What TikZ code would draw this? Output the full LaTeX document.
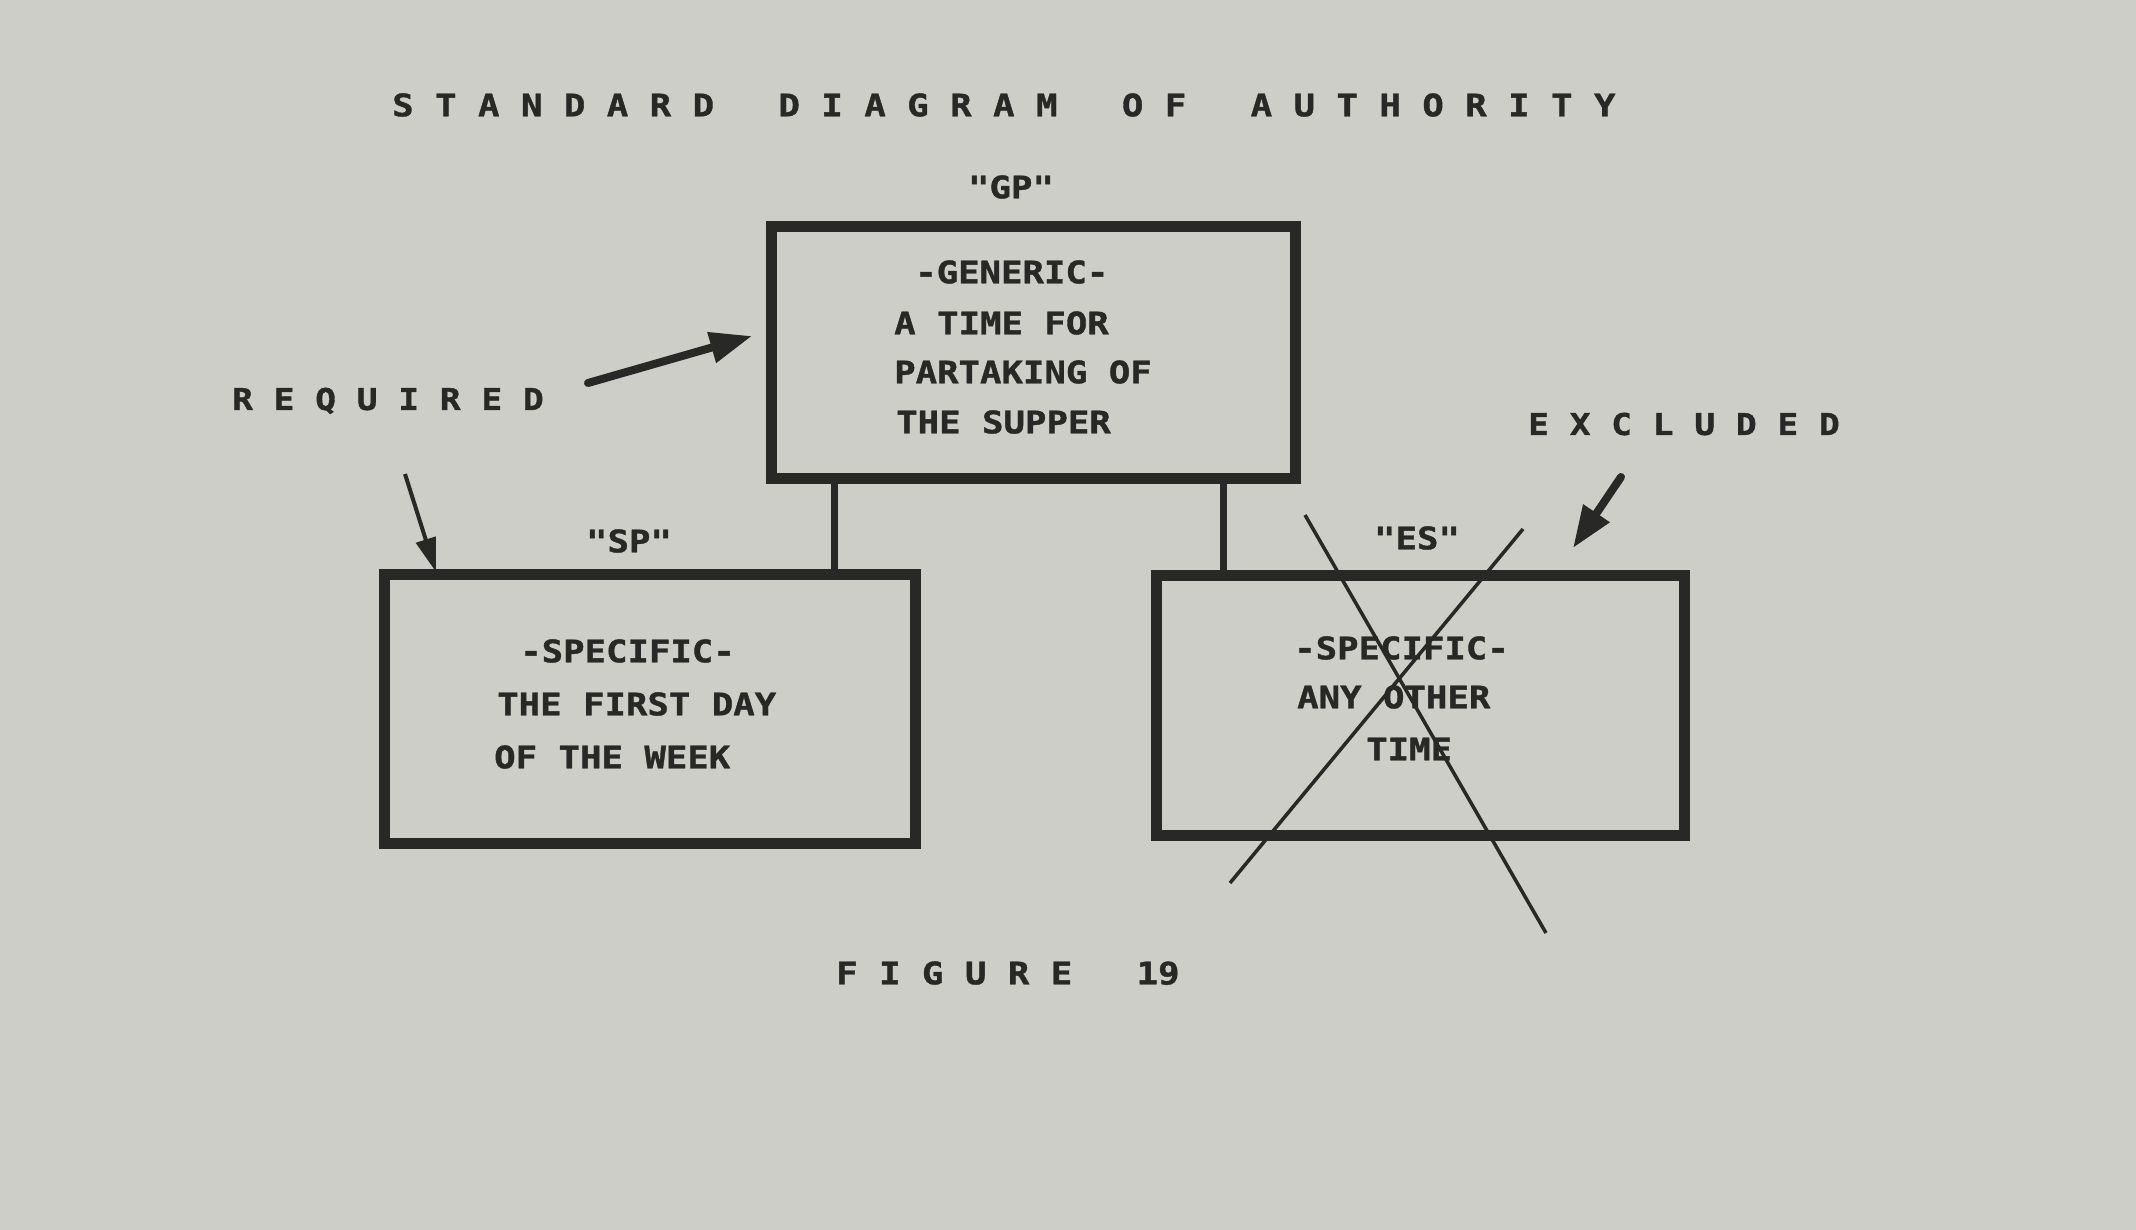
\documentclass[tikz,border=0pt]{standalone}
\usepackage{fontspec}
\usetikzlibrary{arrows.meta}
\newfontfamily\lettering[FakeStretch=1.15, BoldFeatures={FakeBold=1.2}]{DejaVu Sans Mono}
\definecolor{paper}{RGB}{206,206,200}
\definecolor{ink}{RGB}{40,40,38}
\tikzset{
  lbl/.style={font=\lettering\bfseries\fontsize{31}{31}\selectfont, text=ink, inner sep=0pt, text height=22.6pt, text depth=0pt},
  slbl/.style={font=\lettering\bfseries\fontsize{30}{30}\selectfont, text=ink, inner sep=0pt, text height=21.9pt, text depth=0pt},
  boxnode/.style={draw=ink, line width=11pt, inner sep=0pt, rectangle},
  conn/.style={draw=ink, line width=7pt},
  bigarrow/.style={draw=ink, line width=8pt, line cap=round, -{Triangle[length=42pt,width=30pt]}},
  thinarrow/.style={draw=ink, line width=4pt, -{Triangle[length=34pt,width=20pt]}},
  crossline/.style={draw=ink, line width=3.5pt}
}
\begin{document}
\begin{tikzpicture}[x=1pt,y=-1pt]
\fill[paper] (0,0) rectangle (2136,1230);
\useasboundingbox (0,0) rectangle (2136,1230);
% title
\node[lbl, anchor=west] (title) at (392,105) {S~T~A~N~D~A~R~D~~~D~I~A~G~R~A~M~~~O~F~~~A~U~T~H~O~R~I~T~Y};
% boxes
\node[boxnode, minimum width=524pt, minimum height=252pt] (gp) at (1033.5,352.5) {};
\node[boxnode, minimum width=531pt, minimum height=269pt] (sp) at (650,709) {};
\node[boxnode, minimum width=528pt, minimum height=260pt] (es) at (1420.5,705) {};
% box labels
\node[lbl] (gplab) at (1011,187) {"GP"};
\node[lbl] (splab) at (629,541) {"SP"};
\node[lbl] (eslab) at (1417,538) {"ES"};
% GP text
\node[lbl, anchor=west] (gp1) at (915,272) {-GENERIC-};
\node[lbl, anchor=west] (gp2) at (894,323) {A TIME FOR};
\node[lbl, anchor=west] (gp3) at (894,372) {PARTAKING OF};
\node[lbl, anchor=west] (gp4) at (896,422) {THE SUPPER};
% SP text
\node[lbl, anchor=west] (sp1) at (520,651) {-SPECIFIC-};
\node[lbl, anchor=west] (sp2) at (497,704) {THE FIRST DAY};
\node[lbl, anchor=west] (sp3) at (494,757) {OF THE WEEK};
% ES text
\node[lbl, anchor=west] (es1) at (1294,648) {-SPECIFIC-};
\node[lbl, anchor=west] (es2) at (1297,697) {ANY OTHER};
\node[lbl, anchor=west] (es3) at (1366,749) {TIME};
% side labels
\node[slbl, anchor=west] (req) at (232,399) {R~E~Q~U~I~R~E~D};
\node[slbl, anchor=west] (exc) at (1528,424) {E~X~C~L~U~D~E~D};
\node[lbl, anchor=west] (fig) at (836,973) {F~I~G~U~R~E~~~19};
% connectors
\coordinate (c1) at (834,0);
\coordinate (c2) at (1223,0);
\draw[conn] (gp.south -| c1) -- (sp.north -| c1);
\draw[conn] (gp.south -| c2) -- (es.north -| c2);
% arrows
\coordinate (a1s) at (588,383);
\coordinate (a1e) at (752,336);
\coordinate (a2s) at (405,474);
\coordinate (a2e) at (436,572);
\coordinate (a3s) at (1621,477);
\coordinate (a3e) at (1573,548);
\draw[bigarrow] (a1s) -- (a1e);
\draw[thinarrow] (a2s) -- (a2e);
\draw[bigarrow] (a3s) -- (a3e);
% cross
\coordinate (x1s) at (1305,515);
\coordinate (x1e) at (1546,933);
\coordinate (x2s) at (1523,529);
\coordinate (x2e) at (1230,883);
\draw[crossline] (x1s) -- (x1e);
\draw[crossline] (x2s) -- (x2e);
\end{tikzpicture}
\end{document}
